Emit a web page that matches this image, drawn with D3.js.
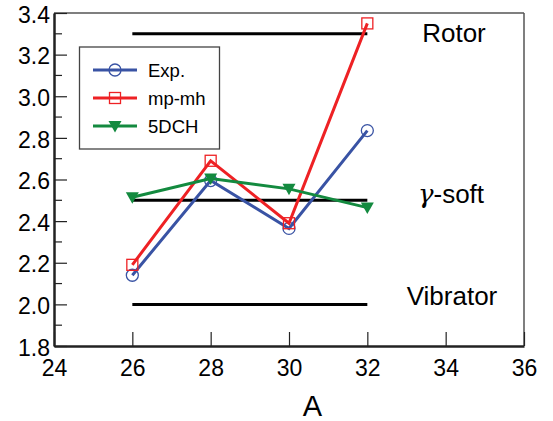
<!DOCTYPE html>
<html>
<head>
<meta charset="utf-8">
<script src="https://cdn.jsdelivr.net/npm/d3@7"></script>
<style>
body { margin: 0; background: #fff; }
svg { display: block; font-family: "Liberation Sans", Arial, Helvetica, sans-serif; }
</style>
</head>
<body>
<script>
// data
const massNumbers = [26, 28, 30, 32];
const expValues = [2.14, 2.595, 2.365, 2.835];
const mpmhValues = [2.19, 2.69, 2.39, 3.35];
const dchValues = [2.515, 2.605, 2.555, 2.465];
const limitNames = ["Rotor", "\u03b3-soft", "Vibrator"];
const limitValues = [3.3, 2.5, 2.0];
const xTicks = [24, 26, 28, 30, 32, 34, 36];
const yTicks = [1.8, 2.0, 2.2, 2.4, 2.6, 2.8, 3.0, 3.2, 3.4];

const width = 553, height = 421;
const margin = {left: 54, right: 29, top: 13, bottom: 75};

const svg = d3.select("body").append("svg")
	.attr("width", width)
	.attr("height", height);

const x = d3.scaleLinear().domain([24, 36]).range([margin.left, width - margin.right]);
const y = d3.scaleLinear().domain([1.8, 3.4]).range([height - margin.bottom, margin.top]);

// frame: top & right lighter
svg.append("line")
	.attr("x1", x(24)).attr("x2", x(36)).attr("y1", y(3.4)).attr("y2", y(3.4))
	.attr("stroke", "#555").attr("stroke-width", 1.5);
svg.append("line")
	.attr("x1", x(36)).attr("x2", x(36)).attr("y1", y(3.4)).attr("y2", y(1.8))
	.attr("stroke", "#555").attr("stroke-width", 1.5);

// axes with inward ticks
const xAxis = svg.append("g")
	.attr("transform", `translate(0,${y(1.8)})`)
	.call(d3.axisBottom(x).tickValues(xTicks).tickSizeInner(-14).tickSizeOuter(0).tickPadding(7).tickFormat(d3.format("d")));
xAxis.selectAll("text").attr("dy", "0").attr("y", 30).attr("font-size", 23);

const yAxis = svg.append("g")
	.attr("transform", `translate(${x(24)},0)`)
	.call(d3.axisLeft(y).tickValues(yTicks).tickSizeInner(-13).tickSizeOuter(0).tickPadding(4).tickFormat(d3.format(".1f")));
yAxis.selectAll("text").attr("x", -4).attr("dy", "0.4em").attr("font-size", 23);

// minor y ticks
const minor = d3.range(1.9, 3.4, 0.2);
svg.append("g").selectAll("line")
	.data(minor).enter().append("line")
	.attr("x1", x(24)).attr("x2", x(24) + 8)
	.attr("y1", d => y(d)).attr("y2", d => y(d))
	.attr("stroke", "#222").attr("stroke-width", 1.2);

[xAxis, yAxis].forEach(g => {
	g.select(".domain").attr("stroke", "#222").attr("stroke-width", 2.5);
	g.selectAll(".tick line").attr("stroke", "#222").attr("stroke-width", 1.2);
	g.selectAll("text").attr("fill", "#000").attr("font-family", "Liberation Sans, Arial, sans-serif");
});

svg.append("text")
	.attr("x", x(30.6)).attr("y", 416)
	.attr("text-anchor", "middle")
	.attr("font-size", 29)
	.text("A");

// limit lines
svg.append("g").selectAll("line")
	.data(limitValues).enter().append("line")
	.attr("x1", x(26)).attr("x2", x(32))
	.attr("y1", d => y(d)).attr("y2", d => y(d))
	.attr("stroke", "#000").attr("stroke-width", 3);

const labelPos = [[454, 42], [451, 203], [452, 305]];
svg.append("g").selectAll("text")
	.data(limitNames).enter().append("text")
	.attr("x", (d, i) => labelPos[i][0])
	.attr("y", (d, i) => labelPos[i][1])
	.attr("text-anchor", "middle")
	.attr("font-size", 26)
	.html((d, i) => i == 1 ? '<tspan font-style="italic" font-family="DejaVu Serif, serif">\u03b3</tspan>-soft' : d);

// series
const series = [
	{name: "Exp.", values: expValues, color: "#3953a4", marker: "circle"},
	{name: "mp-mh", values: mpmhValues, color: "#ee2124", marker: "square"},
	{name: "5DCH", values: dchValues, color: "#138a3f", marker: "triangle"}
];

const line = d3.line().x(d => x(d[0])).y(d => y(d[1]));

function drawMarker(g, type, color) {
	if (type == "circle") {
		g.append("circle").attr("r", 6).attr("fill", "none").attr("stroke", color).attr("stroke-width", 1.3);
	} else if (type == "square") {
		g.append("rect").attr("x", -5.5).attr("y", -5.5).attr("width", 11).attr("height", 11)
			.attr("fill", "none").attr("stroke", color).attr("stroke-width", 1.3);
	} else {
		g.append("path").attr("d", "M-6.5,-5 L6.5,-5 L0,6.5 Z").attr("fill", color);
	}
}

series.forEach(s => {
	const pts = massNumbers.map((a, i) => [a, s.values[i]]);
	svg.append("path")
		.datum(pts)
		.attr("d", line)
		.attr("fill", "none")
		.attr("stroke", s.color)
		.attr("stroke-width", 3);
	pts.forEach(p => {
		const g = svg.append("g").attr("transform", `translate(${x(p[0])},${y(p[1])})`);
		drawMarker(g, s.marker, s.color);
	});
});

// legend
const legend = svg.append("g");
legend.append("rect")
	.attr("x", 79.5).attr("y", 47).attr("width", 140).attr("height", 102)
	.attr("fill", "#fff").attr("stroke", "#444").attr("stroke-width", 1.3);
series.forEach((s, i) => {
	const ly = 70 + i * 28;
	legend.append("line")
		.attr("x1", 93).attr("x2", 137).attr("y1", ly).attr("y2", ly)
		.attr("stroke", s.color).attr("stroke-width", 3);
	const g = legend.append("g").attr("transform", `translate(115,${ly})`);
	drawMarker(g, s.marker, s.color);
	legend.append("text")
		.attr("x", 148).attr("y", ly + 7)
		.attr("font-size", 18.5)
		.text(s.name);
});
</script>
</body>
</html>
